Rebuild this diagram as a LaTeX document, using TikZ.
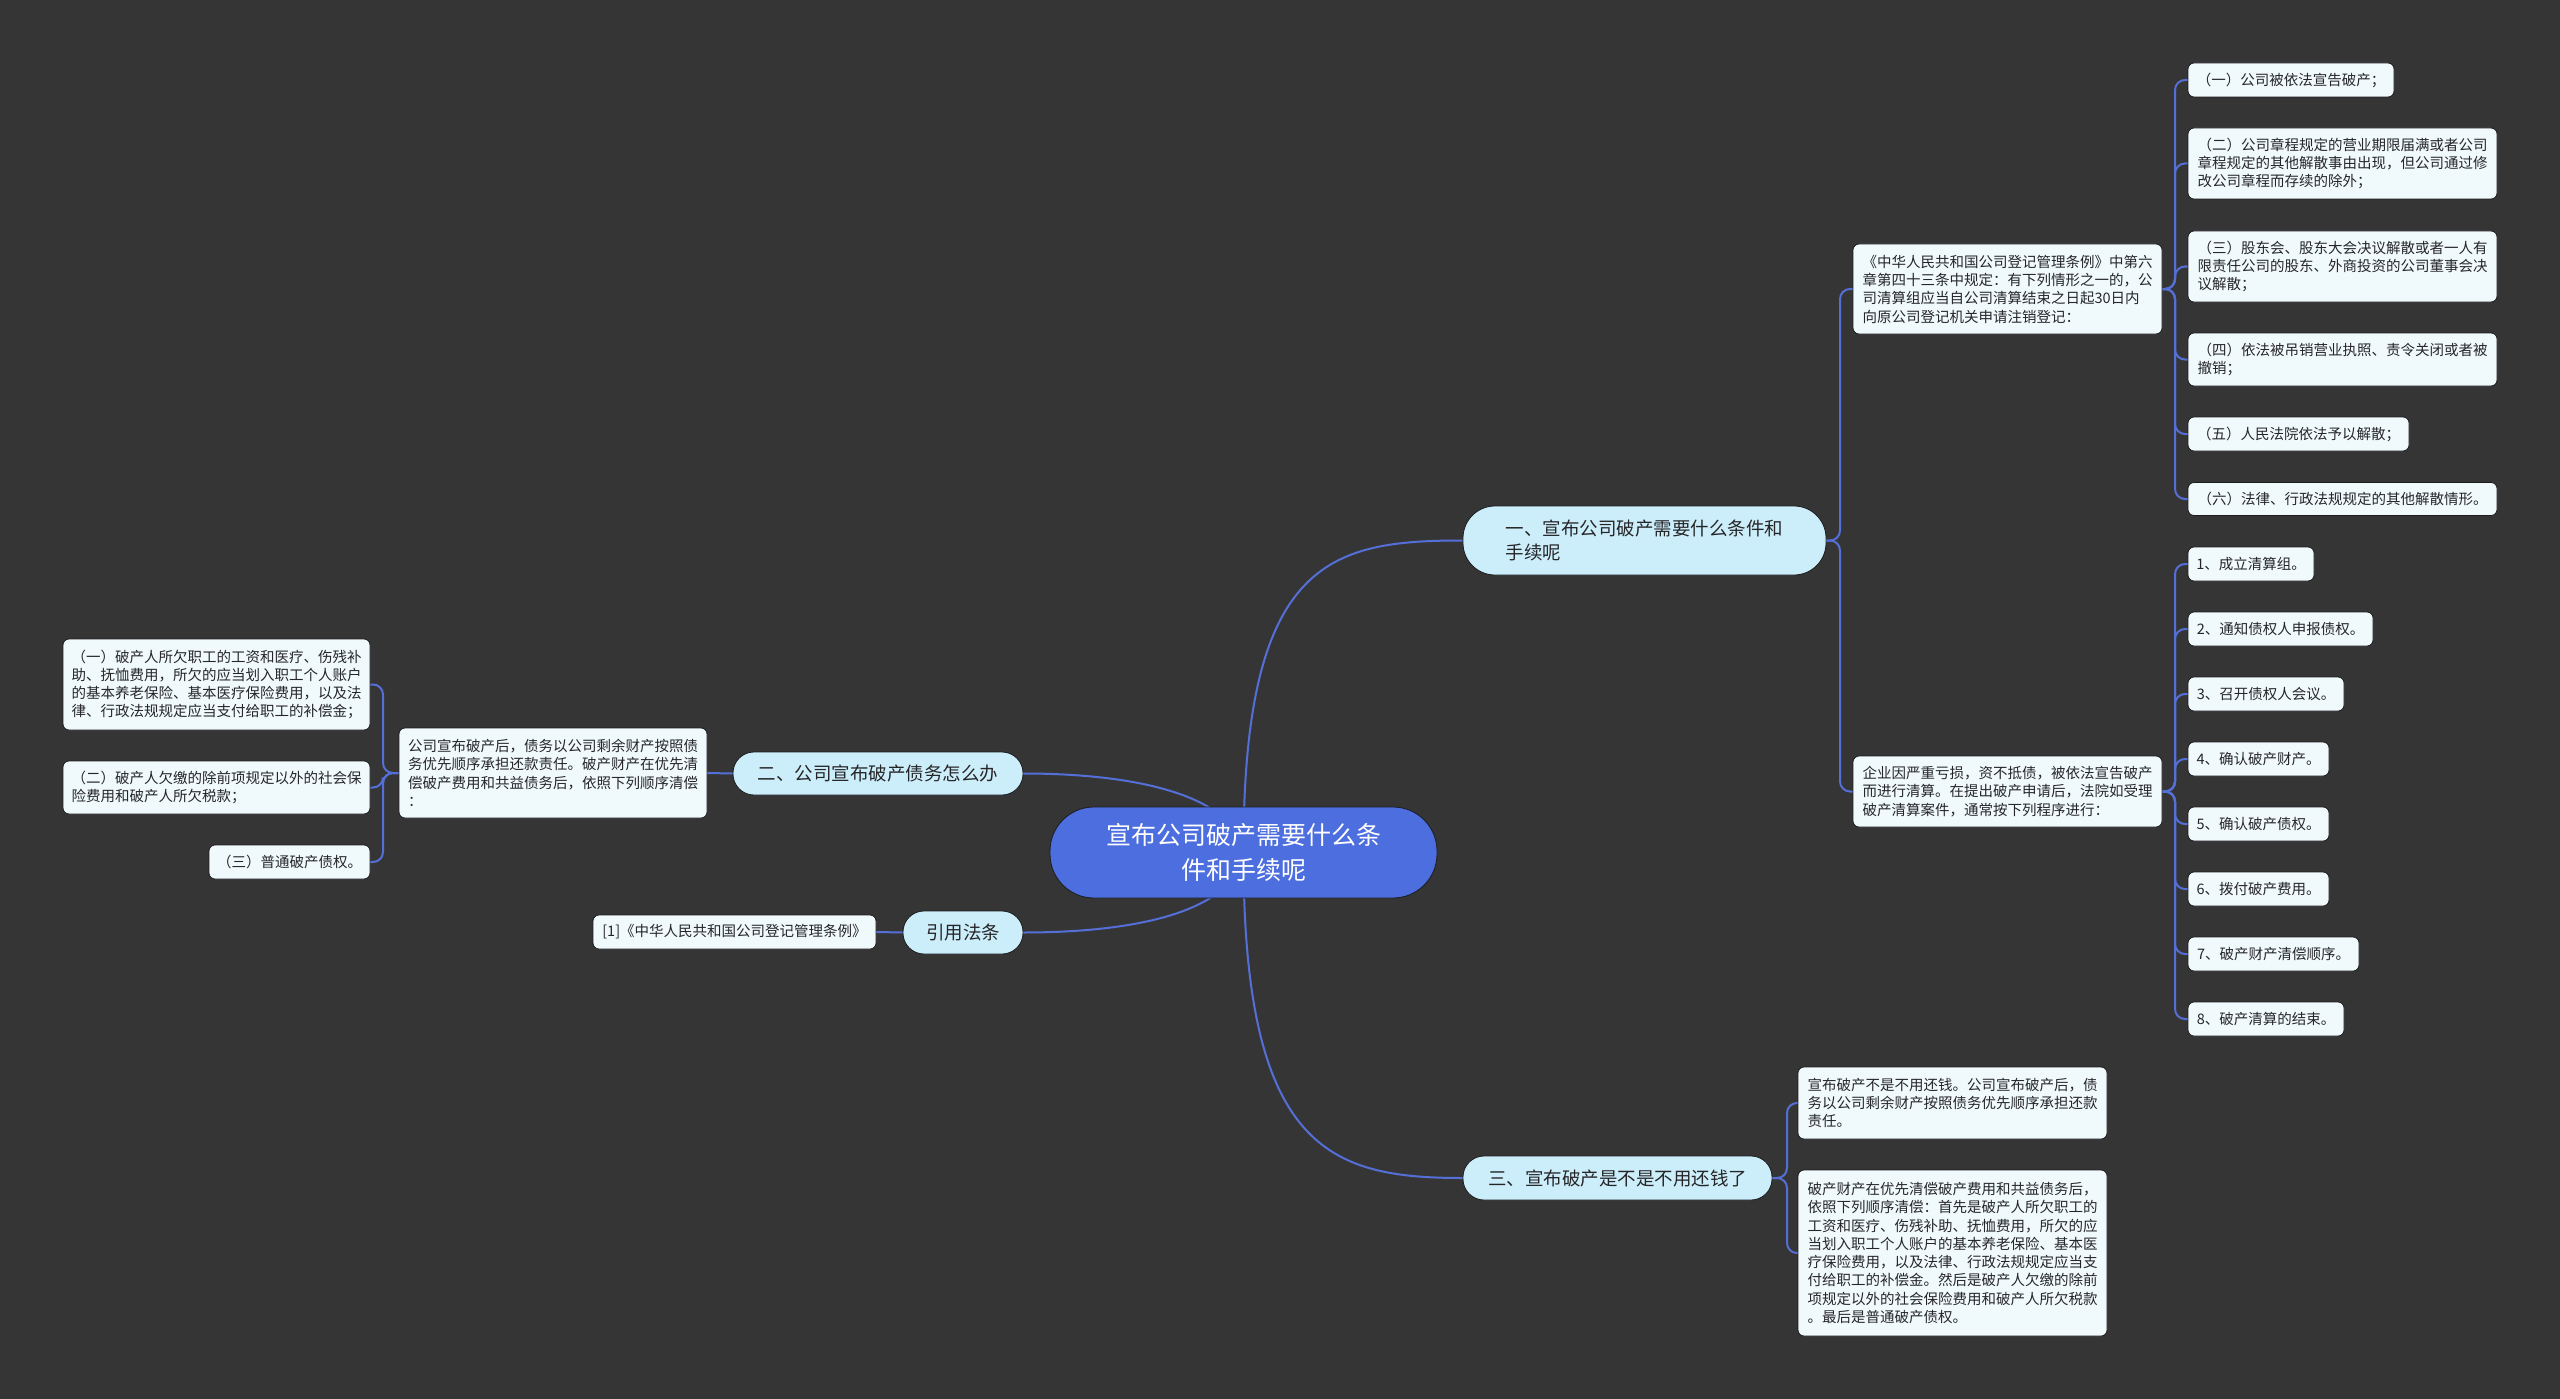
\documentclass[tikz,border=0pt]{standalone}
\usepackage{fontspec}
\setmainfont{Noto Sans CJK SC}
\usetikzlibrary{backgrounds}
\definecolor{bgc}{RGB}{54,53,54}
\definecolor{linec}{RGB}{84,112,216}
\definecolor{rootc}{RGB}{77,110,222}
\definecolor{branchc}{RGB}{204,238,251}
\definecolor{leafc}{RGB}{240,250,253}
\definecolor{textc}{RGB}{38,38,40}
\definecolor{edgec}{RGB}{28,28,30}
\tikzset{
  rootbox/.style={fill=rootc, draw=edgec, line width=0.8pt, rounded corners=44pt, inner sep=0pt,
    text=white, align=center, font=\fontsize{25}{35}\selectfont},
  branchbox/.style={fill=branchc, draw=edgec, line width=0.8pt, rounded corners=21pt, inner sep=0pt,
    text=textc, align=left, font=\fontsize{18.5}{23.3}\selectfont},
  leafbox/.style={fill=leafc, draw=edgec, line width=0.8pt, rounded corners=6pt, inner sep=0pt,
    text=textc, align=left, font=\fontsize{14.5}{18.3}\selectfont},
  conn/.style={draw=linec, line width=2pt, line cap=round},
  elbow/.style={conn, rounded corners=10pt},
}
\begin{document}
\begin{tikzpicture}[x=1pt,y=-1pt]
\begin{pgfonlayer}{background}
\fill[bgc] (0,0) rectangle (2560,1399);
\end{pgfonlayer}

% root
\node[rootbox, minimum width=387, minimum height=91] (root) at (1243.5,852.5)
  {宣布公司破产需要什么条\\件和手续呢};

% branches
\node[branchbox, rounded corners=32pt, minimum width=363, minimum height=69] (b1) at (1644.5,540.5)
  {一、宣布公司破产需要什么条件和\\手续呢};
\node[branchbox, minimum width=290, minimum height=43] (b2) at (878,773.5)
  {二、公司宣布破产债务怎么办};
\node[branchbox, minimum width=120, minimum height=43] (b3) at (963,932.5)
  {引用法条};
\node[branchbox, minimum width=309, minimum height=44] (b4) at (1617.5,1178)
  {三、宣布破产是不是不用还钱了};

% branch 1 children
\node[leafbox, minimum width=309, minimum height=90] (l1) at (2007.5,289)
  {《中华人民共和国公司登记管理条例》中第六\\章第四十三条中规定：有下列情形之一的，公\\司清算组应当自公司清算结束之日起30日内\\向原公司登记机关申请注销登记：};
\node[leafbox, minimum width=309, minimum height=71] (l2) at (2007.5,791.5)
  {企业因严重亏损，资不抵债，被依法宣告破产\\而进行清算。在提出破产申请后，法院如受理\\破产清算案件，通常按下列程序进行：};

% l1 children
\node[leafbox, minimum width=206, minimum height=34] (a1) at (2291,80)
  {（一）公司被依法宣告破产；};
\node[leafbox, minimum width=309, minimum height=71] (a2) at (2342.5,163.5)
  {（二）公司章程规定的营业期限届满或者公司\\章程规定的其他解散事由出现，但公司通过修\\改公司章程而存续的除外；};
\node[leafbox, minimum width=309, minimum height=71] (a3) at (2342.5,266.5)
  {（三）股东会、股东大会决议解散或者一人有\\限责任公司的股东、外商投资的公司董事会决\\议解散；};
\node[leafbox, minimum width=309, minimum height=53] (a4) at (2342.5,359.5)
  {（四）依法被吊销营业执照、责令关闭或者被\\撤销；};
\node[leafbox, minimum width=221, minimum height=34] (a5) at (2298.5,434)
  {（五）人民法院依法予以解散；};
\node[leafbox, minimum width=309, minimum height=33] (a6) at (2342.5,499)
  {（六）法律、行政法规规定的其他解散情形。};

% l2 children
\node[leafbox, minimum width=126, minimum height=34] (p1) at (2251,564) {1、成立清算组。};
\node[leafbox, minimum width=185, minimum height=34] (p2) at (2280.5,629) {2、通知债权人申报债权。};
\node[leafbox, minimum width=156, minimum height=34] (p3) at (2266,694) {3、召开债权人会议。};
\node[leafbox, minimum width=141, minimum height=34] (p4) at (2258.5,759) {4、确认破产财产。};
\node[leafbox, minimum width=141, minimum height=34] (p5) at (2258.5,824) {5、确认破产债权。};
\node[leafbox, minimum width=141, minimum height=34] (p6) at (2258.5,889) {6、拨付破产费用。};
\node[leafbox, minimum width=171, minimum height=34] (p7) at (2273.5,954) {7、破产财产清偿顺序。};
\node[leafbox, minimum width=156, minimum height=34] (p8) at (2266,1019) {8、破产清算的结束。};

% branch 4 children
\node[leafbox, minimum width=309, minimum height=72] (c1) at (1952.5,1103)
  {宣布破产不是不用还钱。公司宣布破产后，债\\务以公司剩余财产按照债务优先顺序承担还款\\责任。};
\node[leafbox, minimum width=309, minimum height=166] (c2) at (1952.5,1253)
  {破产财产在优先清偿破产费用和共益债务后，\\依照下列顺序清偿：首先是破产人所欠职工的\\工资和医疗、伤残补助、抚恤费用，所欠的应\\当划入职工个人账户的基本养老保险、基本医\\疗保险费用，以及法律、行政法规规定应当支\\付给职工的补偿金。然后是破产人欠缴的除前\\项规定以外的社会保险费用和破产人所欠税款\\。最后是普通破产债权。};

% branch 2 children
\node[leafbox, minimum width=308, minimum height=90] (m) at (553,773)
  {公司宣布破产后，债务以公司剩余财产按照债\\务优先顺序承担还款责任。破产财产在优先清\\偿破产费用和共益债务后，依照下列顺序清偿\\：};
\node[leafbox, minimum width=307, minimum height=91] (d1) at (216.5,684.5)
  {（一）破产人所欠职工的工资和医疗、伤残补\\助、抚恤费用，所欠的应当划入职工个人账户\\的基本养老保险、基本医疗保险费用，以及法\\律、行政法规规定应当支付给职工的补偿金；};
\node[leafbox, minimum width=307, minimum height=53] (d2) at (216.5,787.5)
  {（二）破产人欠缴的除前项规定以外的社会保\\险费用和破产人所欠税款；};
\node[leafbox, minimum width=161, minimum height=34] (d3) at (289.5,862)
  {（三）普通破产债权。};

% branch 3 child
\node[leafbox, minimum width=283, minimum height=34] (r1) at (734.5,932)
  {[1]《中华人民共和国公司登记管理条例》};

% spine coordinates
\coordinate (s1) at (1840,0);
\coordinate (s2) at (2175,0);
\coordinate (s4) at (1787,0);
\coordinate (s5) at (383,0);

\begin{pgfonlayer}{background}
% root to branches
\draw[conn] (root.center) .. controls (1243,560) and (1330,540.5) .. (b1.west);
\draw[conn] (root.center) .. controls (1243,1150) and (1330,1178) .. (b4.west);
\draw[conn] (root.center) .. controls (1235,795) and (1135,773.5) .. (b2.east);
\draw[conn] (root.center) .. controls (1235,912) and (1135,932.5) .. (b3.east);
% branch 1
\foreach \t in {l1,l2}
  \draw[elbow] (b1.east) -- (b1.east -| s1) |- (\t.west);
\foreach \t in {a1,a2,a3,a4,a5,a6}
  \draw[elbow] (l1.east) -- (l1.east -| s2) |- (\t.west);
\foreach \t in {p1,p2,p3,p4,p5,p6,p7,p8}
  \draw[elbow] (l2.east) -- (l2.east -| s2) |- (\t.west);
% branch 4
\foreach \t in {c1,c2}
  \draw[elbow] (b4.east) -- (b4.east -| s4) |- (\t.west);
% branch 2
\draw[conn] (b2.west) -- (m.east);
\foreach \t in {d1,d2,d3}
  \draw[elbow] (m.west) -- (m.west -| s5) |- (\t.east);
% branch 3
\draw[conn] (b3.west) -- (r1.east);
\end{pgfonlayer}
\end{tikzpicture}
\end{document}
